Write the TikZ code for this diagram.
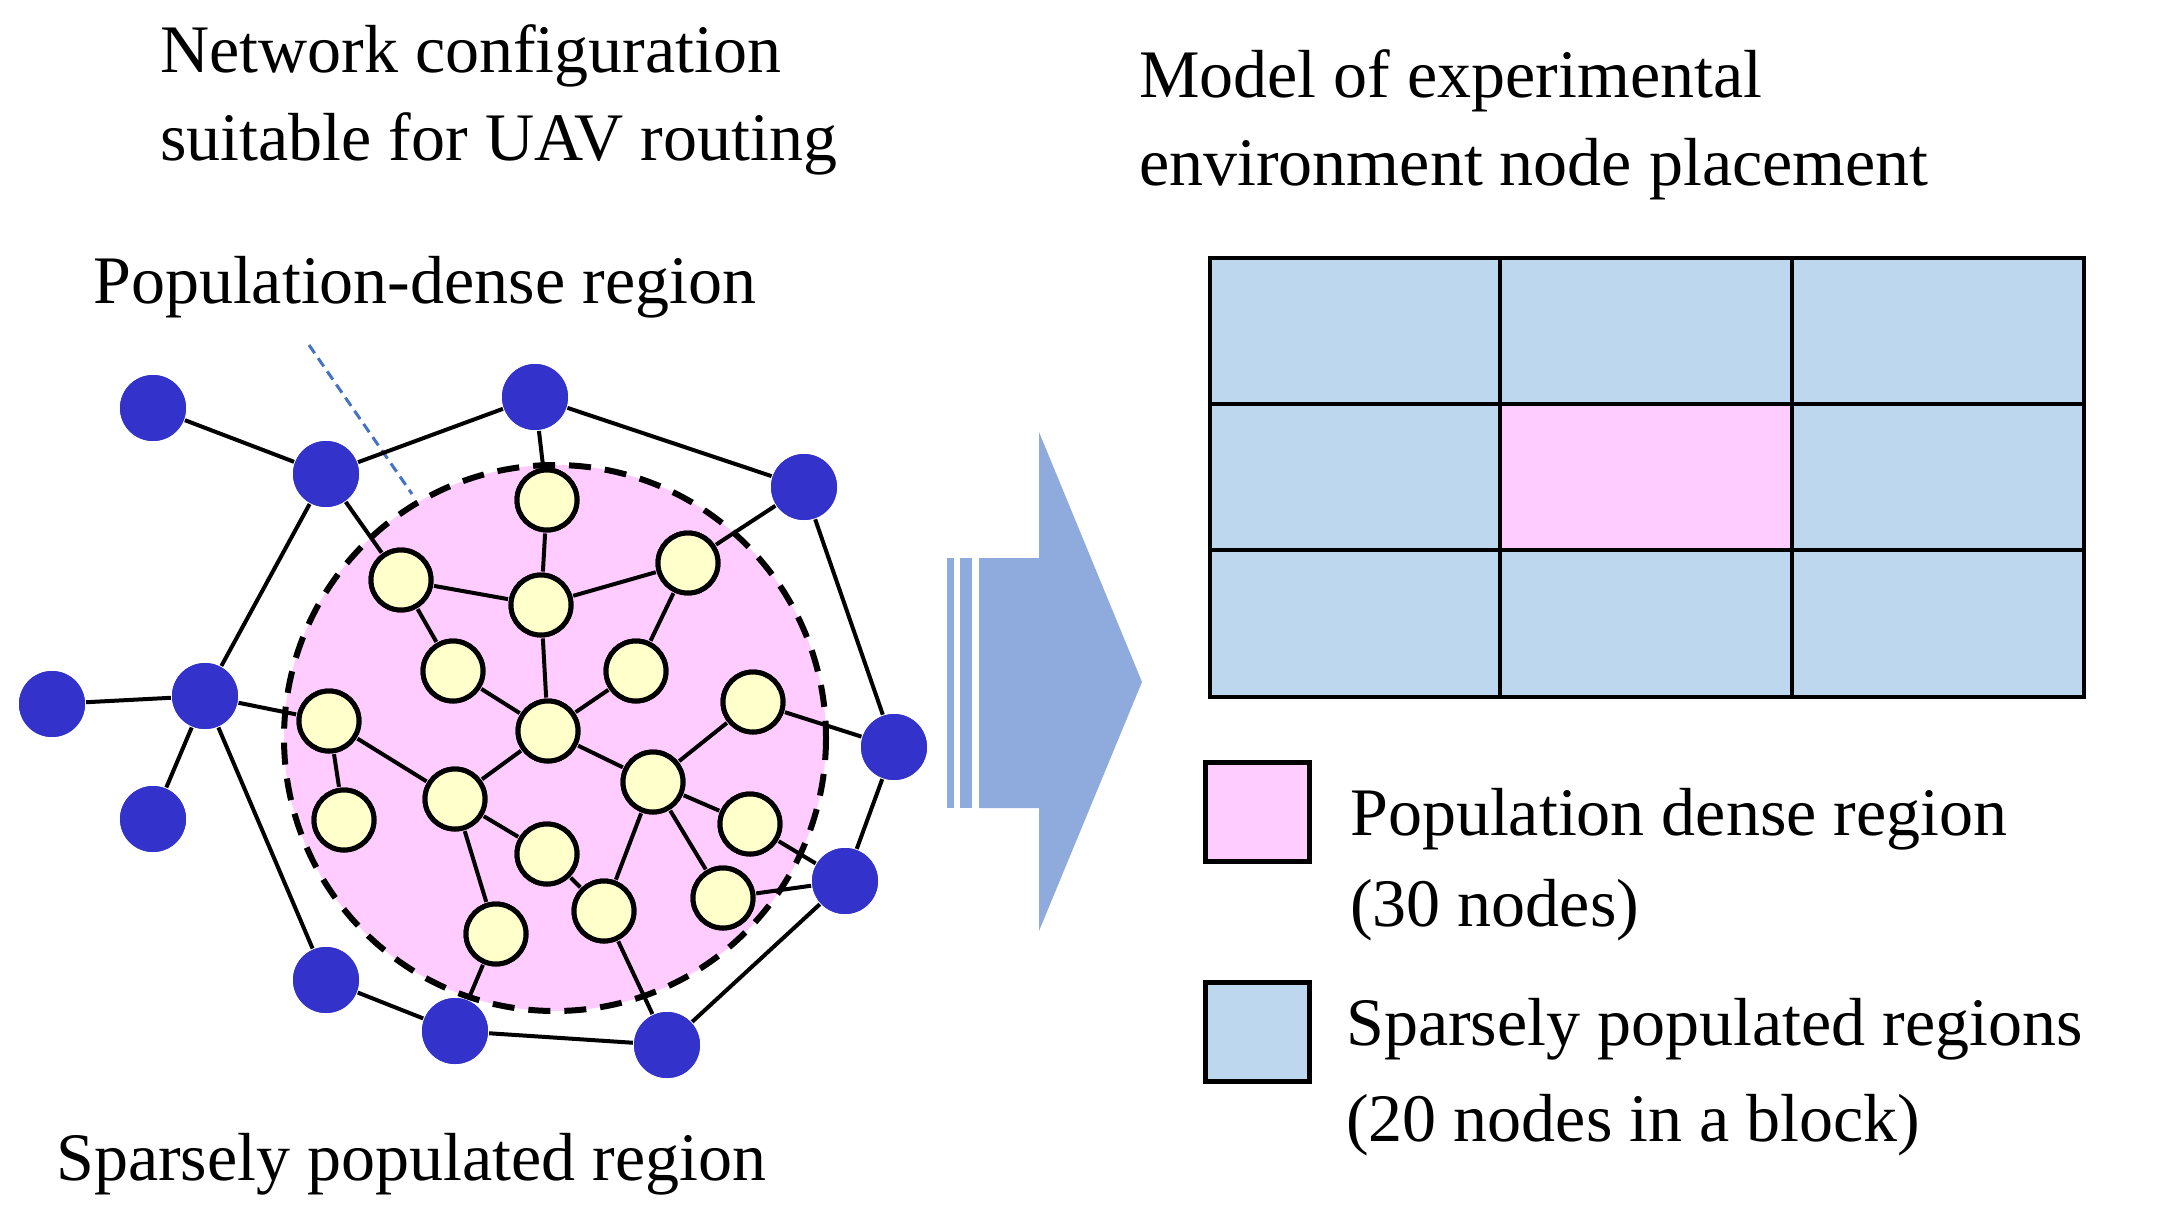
\documentclass[tikz,border=0pt]{standalone}
\usepackage{fontspec}
\setmainfont{Liberation Serif}
\begin{document}
\begin{tikzpicture}[x=1pt,y=-1pt,
  blue node/.style={circle,fill=nblue,draw=none,minimum size=66pt,inner sep=0},
  yel/.style={circle,fill=nyel,draw=black,line width=5pt,minimum size=60pt,inner sep=0},
  edge/.style={draw=black,line width=4pt},
  lbl/.style={anchor=base west,inner sep=0,font=\fontsize{68}{72}\selectfont},
  cell/.style={draw=black,line width=4pt,fill=gblue}]
\definecolor{nblue}{HTML}{3333CC}
\definecolor{nyel}{HTML}{FFFFCC}
\definecolor{npink}{HTML}{FFCCFF}
\definecolor{gblue}{HTML}{BDD7EE}
\definecolor{arr}{HTML}{8FAADC}
\definecolor{dline}{HTML}{4472C4}
\useasboundingbox (0,0) rectangle (2172,1213);
% region
\draw[fill=npink,line width=6pt,dash pattern=on 22pt off 14pt] (555,738) ellipse [x radius=271,y radius=273];
\coordinate (d1) at (309,345); \coordinate (d2) at (412,494);
\draw[dline,line width=3pt,dash pattern=on 10pt off 6pt] (d1) -- (d2);
% blue nodes
\foreach \n/\x/\y in {B1/153/408,B2/326/474,B3/535/397,B4/804/487,B5/894/747,B6/845/881,B7/667/1045,B8/455/1031,B9/326/980,B10/205/696,B11/52/704,B12/153/819}
  \node[blue node] (\n) at (\x,\y) {};
\foreach \n/\x/\y in {Y1/547/500,Y2/401/580,Y3/541/605,Y4/688/563,Y5/453/671,Y6/636/671,Y7/548/731,Y8/329/721,Y9/753/702,Y10/344/820,Y11/455/799,Y12/653/782,Y13/750/824,Y14/547/854,Y15/604/911,Y16/723/898,Y17/496/934}
  \node[yel] (\n) at (\x,\y) {};
\begin{scope}[on background layer/.try]
\end{scope}
\foreach \a/\b in {B1/B2,B2/B3,B3/B4,B4/B5,B5/B6,B6/B7,B7/B8,B8/B9,B9/B10,B10/B2,B10/B11,B10/B12,B3/Y1,B2/Y2,B4/Y4,B10/Y8,B5/Y9,B6/Y13,B6/Y16,B8/Y17,B7/Y15,Y1/Y3,Y2/Y3,Y3/Y4,Y3/Y7,Y2/Y5,Y5/Y7,Y4/Y6,Y6/Y7,Y7/Y11,Y7/Y12,Y8/Y11,Y8/Y10,Y11/Y14,Y14/Y15,Y11/Y17,Y12/Y9,Y12/Y13,Y12/Y15,Y12/Y16}
  \draw[edge,shorten <=1pt,shorten >=1pt] (\a) -- (\b);
% redraw nodes on top of edges
\foreach \n/\x/\y in {B1/153/408,B2/326/474,B3/535/397,B4/804/487,B5/894/747,B6/845/881,B7/667/1045,B8/455/1031,B9/326/980,B10/205/696,B11/52/704,B12/153/819}
  \node[blue node] at (\x,\y) {};
\foreach \n/\x/\y in {Y1/547/500,Y2/401/580,Y3/541/605,Y4/688/563,Y5/453/671,Y6/636/671,Y7/548/731,Y8/329/721,Y9/753/702,Y10/344/820,Y11/455/799,Y12/653/782,Y13/750/824,Y14/547/854,Y15/604/911,Y16/723/898,Y17/496/934}
  \node[yel] at (\x,\y) {};
% arrow
\fill[arr] (947,558) rectangle (954,808);
\fill[arr] (960,558) rectangle (972,808);
\fill[arr] (979,558) -- (1039,558) -- (1039,432) -- (1142,682) -- (1039,931) -- (1039,808) -- (979,808) -- cycle;
% grid
\foreach \i/\xa/\xb in {0/1210/1500,1/1500/1792,2/1792/2084}
  \foreach \j/\ya/\yb in {0/258/404,1/404/550,2/550/697}
    \draw[cell] (\xa,\ya) rectangle (\xb,\yb);
\draw[cell,fill=npink] (1500,404) rectangle (1792,550);
% legend
\node[draw=black,line width=5pt,fill=npink,minimum width=104pt,minimum height=99pt,inner sep=0] (lp) at (1257,812) {};
\node[draw=black,line width=5pt,fill=gblue,minimum width=104pt,minimum height=99pt,inner sep=0] (lb) at (1257,1032) {};
% texts
\node[lbl] (t1) at (160,72) {Network configuration};
\node[lbl] (t2) at (160,160) {suitable for UAV routing};
\node[lbl] (t3) at (93,303) {Population-dense region};
\node[lbl] (t4) at (56,1180) {Sparsely populated region};
\node[lbl] (t5) at (1139,97) {Model of experimental};
\node[lbl] (t6) at (1139,185) {environment node placement};
\node[lbl] (t7) at (1350,835) {Population dense region};
\node[lbl] (t8) at (1350,926) {(30 nodes)};
\node[lbl] (t9) at (1346,1045) {Sparsely populated regions};
\node[lbl] (t10) at (1346,1141) {(20 nodes in a block)};
\end{tikzpicture}
\end{document}
